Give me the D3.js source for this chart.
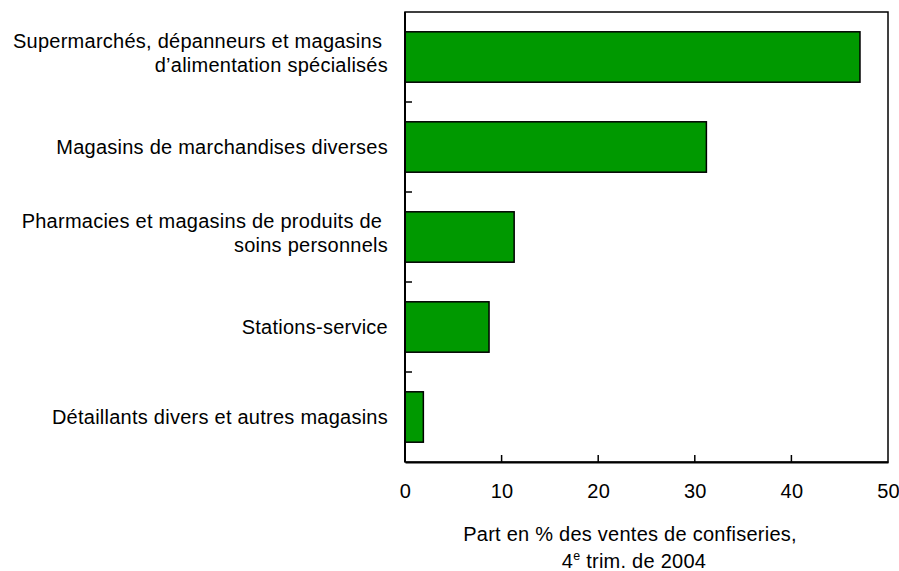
<!DOCTYPE html>
<html>
<head>
<meta charset="utf-8">
<script src="https://cdn.jsdelivr.net/npm/d3@7"></script>
<style>
  body { margin: 0; background: #fff; }
  svg text { font-family: "Liberation Sans", Arial, sans-serif; fill: #000; white-space: pre; letter-spacing: 0.25px; }
</style>
</head>
<body>
<svg id="chart" width="899" height="571"></svg>
<script>
const categories = [
  ["Supermarchés, dépanneurs et magasins ", "d’alimentation spécialisés"],
  ["Magasins de marchandises diverses"],
  ["Pharmacies et magasins de produits de ", "soins personnels"],
  ["Stations-service"],
  ["Détaillants divers et autres magasins"]
];
const values = [47.1, 31.2, 11.3, 8.7, 1.9];
const xTicks = [0, 10, 20, 30, 40, 50];
const axisTitle = ["Part en % des ventes de confiseries,", "4", "e", " trim. de 2004"];

const svg = d3.select("#chart");
const m = { left: 405, right: 888, top: 12, bottom: 462 };
const fs = 20;

const x = d3.scaleLinear().domain([0, 50]).range([m.left, m.right]);
const y = d3.scaleBand().domain(d3.range(categories.length))
  .range([m.top, m.bottom]).paddingInner(0.44).paddingOuter(0.22);

// frame
svg.append("rect")
  .attr("x", m.left).attr("y", m.top)
  .attr("width", m.right - m.left).attr("height", m.bottom - m.top)
  .attr("fill", "none").attr("stroke", "#000").attr("stroke-width", 1.5);

// bars
svg.selectAll("rect.bar").data(values).join("rect")
  .attr("class", "bar")
  .attr("x", x(0))
  .attr("y", (d, i) => y(i))
  .attr("width", d => x(d) - x(0))
  .attr("height", y.bandwidth())
  .attr("fill", "#009900")
  .attr("stroke", "#000").attr("stroke-width", 1.5);

// y axis (ticks at band boundaries, inward)
const boundaries = d3.range(1, categories.length).map(i => y(i) - y.step() * y.paddingInner() / 2);
svg.selectAll("line.ytick").data(boundaries).join("line")
  .attr("class", "ytick")
  .attr("x1", m.left).attr("x2", m.left + 7)
  .attr("y1", d => d).attr("y2", d => d)
  .attr("stroke", "#000").attr("stroke-width", 1.5);

svg.append("line").attr("x1", m.left).attr("x2", m.left)
  .attr("y1", m.top).attr("y2", m.bottom)
  .attr("stroke", "#000").attr("stroke-width", 2);

// x axis
const xAxis = d3.axisBottom(x).tickValues(xTicks).tickSize(0).tickPadding(0);
const gx = svg.append("g").attr("transform", `translate(0,${m.bottom})`).call(xAxis);
gx.select(".domain").attr("stroke", "#000").attr("stroke-width", 2);
gx.selectAll(".tick text")
  .attr("dy", null).attr("y", 36)
  .style("font-size", fs + "px").style("font-family", '"Liberation Sans", Arial, sans-serif').attr("fill", "#000");
svg.selectAll("line.xtick").data(xTicks.slice(1, -1)).join("line")
  .attr("class", "xtick")
  .attr("x1", d => x(d)).attr("x2", d => x(d))
  .attr("y1", m.bottom).attr("y2", m.bottom - 7)
  .attr("stroke", "#000").attr("stroke-width", 1.5);

// category labels
categories.forEach((lines, i) => {
  const c = y(i) + y.bandwidth() / 2;
  const base = lines.length === 1 ? [c + 7] : [c - 9, c + 15];
  lines.forEach((ln, j) => {
    svg.append("text")
      .attr("x", 388).attr("y", base[j])
      .attr("text-anchor", "end")
      .style("font-size", fs + "px")
      .text(ln);
  });
});

// axis title
const cx = 630;
svg.append("text").attr("x", cx).attr("y", 541).attr("text-anchor", "middle")
  .style("font-size", fs + "px").text(axisTitle[0]);
const t2 = svg.append("text").attr("x", cx + 4).attr("y", 568).attr("text-anchor", "middle")
  .style("font-size", fs + "px");
t2.append("tspan").text(axisTitle[1]);
t2.append("tspan").attr("dy", -8).style("font-size", (fs * 0.62) + "px").text(axisTitle[2]);
t2.append("tspan").attr("dy", 8).text(axisTitle[3]);
</script>
</body>
</html>
